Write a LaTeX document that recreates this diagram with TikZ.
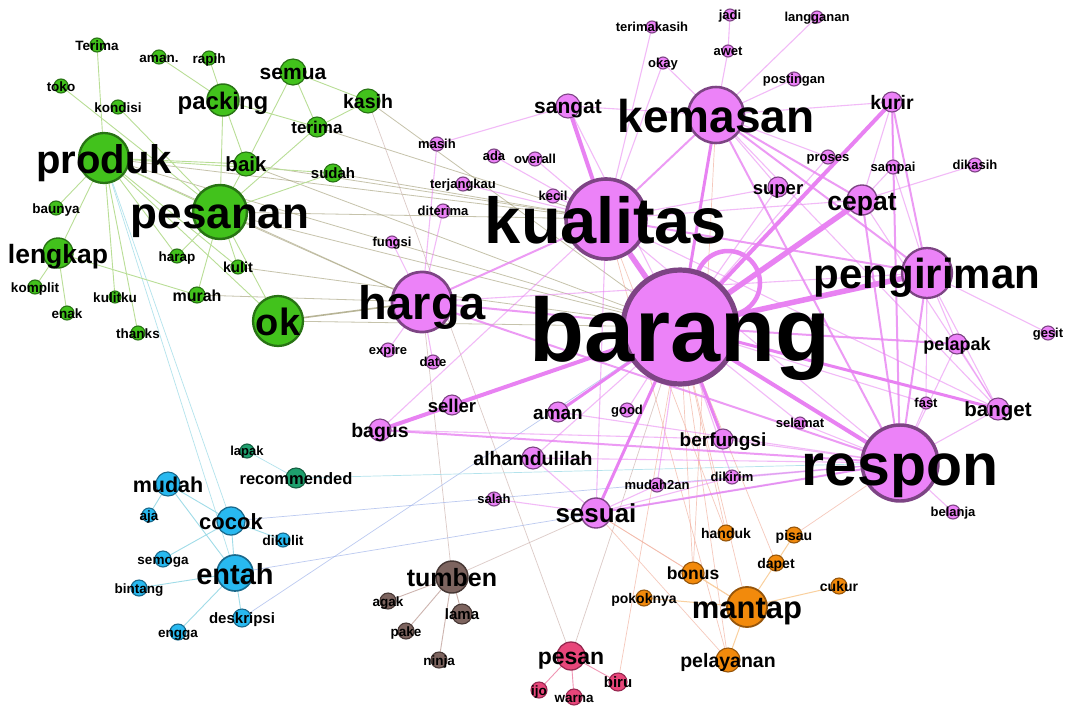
\documentclass[tikz,border=0pt]{standalone}
\usepackage{fontspec}
\setmainfont{Liberation Sans}
\pgfdeclarelayer{bot}\pgfdeclarelayer{bg}\pgfdeclarelayer{fg}\pgfsetlayers{bot,bg,main,fg}
\definecolor{gF}{RGB}{66,194,28} \definecolor{gD}{RGB}{40,115,20}
\definecolor{pF}{RGB}{236,130,248} \definecolor{pD}{RGB}{125,68,132}
\definecolor{cF}{RGB}{40,185,240} \definecolor{cD}{RGB}{25,105,140}
\definecolor{tF}{RGB}{30,160,110} \definecolor{tD}{RGB}{20,95,65}
\definecolor{bF}{RGB}{125,100,95} \definecolor{bD}{RGB}{70,55,52}
\definecolor{rF}{RGB}{232,70,122} \definecolor{rD}{RGB}{150,40,80}
\definecolor{oF}{RGB}{242,138,12} \definecolor{oD}{RGB}{150,85,10}
\definecolor{pE}{RGB}{232,130,242}
\definecolor{gE}{RGB}{185,222,150}
\definecolor{olE}{RGB}{160,155,115}
\definecolor{bE}{RGB}{160,180,235}
\definecolor{cE}{RGB}{160,220,232}
\definecolor{oE}{RGB}{242,178,160}
\definecolor{brE}{RGB}{205,180,175}
\definecolor{rE}{RGB}{240,150,180}
\newcommand\wn[7]{%
 \node[#5, minimum size={2*#4*1pt}, line width={max(1.1,#4/11)*1pt}] (#1) at (#2,#3) {};
 \begin{pgfonlayer}{fg}\node[anchor=base, inner sep=0, font={\bfseries\fontsize{#6}{#6}\selectfont}, yshift={-0.38*#6*1pt}] (#1-l) at (#2,#3) {#7};\end{pgfonlayer}}
\tikzset{
 nd/.style={circle, inner sep=0},
 gn/.style={nd, fill=gF, draw=gD},
 pn/.style={nd, fill=pF, draw=pD},
 cn/.style={nd, fill=cF, draw=cD},
 tn/.style={nd, fill=tF, draw=tD},
 bn/.style={nd, fill=bF, draw=bD},
 rn/.style={nd, fill=rF, draw=rD},
 on/.style={nd, fill=oF, draw=oD},
}
\begin{document}
\begin{tikzpicture}[x=1pt,y=-1pt]
\begin{pgfonlayer}{bot}
\fill[white] (0,0) rectangle (1067,707);
\end{pgfonlayer}
\useasboundingbox (0,0) rectangle (1067,707);
% green
\wn{produk}{104}{158}{25}{gn}{40}{produk}
\wn{pesanan}{220}{212}{27}{gn}{44}{pesanan}
\wn{packing}{223}{100}{16}{gn}{24}{packing}
\wn{semua}{293}{72}{13}{gn}{21}{semua}
\wn{kasih}{368}{101}{12}{gn}{19.5}{kasih}
\wn{terima}{317}{127}{10}{gn}{17}{terima}
\wn{baik}{246}{164}{12}{gn}{20.5}{baik}
\wn{sudah}{333}{173}{9}{gn}{15}{sudah}
\wn{Terimax}{97}{45}{7}{gn}{13.5}{Terima}
\wn{amanx}{159}{57}{7}{gn}{13.5}{aman.}
\wn{rapih}{209}{58}{7}{gn}{13.5}{rapih}
\wn{toko}{61}{86}{7}{gn}{13.5}{toko}
\wn{kondisi}{118}{107}{7}{gn}{13.5}{kondisi}
\wn{baunya}{56}{208}{7}{gn}{13.5}{baunya}
\wn{lengkap}{58}{253}{15}{gn}{26.5}{lengkap}
\wn{komplit}{35}{287}{7}{gn}{13.5}{komplit}
\wn{enak}{67}{313}{7}{gn}{13.5}{enak}
\wn{kulitku}{115}{297}{6}{gn}{13.5}{kulitku}
\wn{thanks}{138}{333}{7}{gn}{13.5}{thanks}
\wn{harap}{177}{256}{7}{gn}{13.5}{harap}
\wn{kulit}{238}{267}{7}{gn}{14.5}{kulit}
\wn{murah}{197}{295}{8}{gn}{16}{murah}
\wn{ok}{278}{321}{25}{gn}{38}{ok}
% purple
\wn{barang}{680}{327}{57}{pn}{90}{barang}
\wn{kualitas}{606}{219}{40}{pn}{65}{kualitas}
\wn{kemasan}{716}{115}{28}{pn}{46}{kemasan}
\wn{respon}{900}{463}{38}{pn}{59}{respon}
\wn{pengiriman}{927}{273}{25}{pn}{42}{pengiriman}
\wn{harga}{422}{302}{30}{pn}{47}{harga}
\wn{cepat}{862}{200}{15}{pn}{26.5}{cepat}
\wn{sangat}{568}{106}{12}{pn}{21}{sangat}
\wn{kurir}{892}{102}{10}{pn}{19.5}{kurir}
\wn{super}{778}{187}{10}{pn}{18.5}{super}
\wn{terimakasih}{652}{27}{6}{pn}{13}{terimakasih}
\wn{okay}{663}{63}{6}{pn}{13}{okay}
\wn{jadi}{730}{15}{6}{pn}{13}{jadi}
\wn{awet}{728}{51}{6}{pn}{13}{awet}
\wn{langganan}{817}{17}{6}{pn}{13}{langganan}
\wn{postingan}{794}{79}{7}{pn}{13}{postingan}
\wn{proses}{828}{157}{7}{pn}{13}{proses}
\wn{sampai}{893}{167}{7}{pn}{13}{sampai}
\wn{dikasih}{975}{165}{7}{pn}{13}{dikasih}
\wn{masih}{437}{144}{7}{pn}{13}{masih}
\wn{ada}{494}{156}{7}{pn}{13}{ada}
\wn{overall}{535}{159}{7}{pn}{13}{overall}
\wn{terjangkau}{463}{184}{7}{pn}{13}{terjangkau}
\wn{kecil}{553}{196}{7}{pn}{13}{kecil}
\wn{diterima}{443}{211}{7}{pn}{13}{diterima}
\wn{fungsi}{392}{242}{6}{pn}{13}{fungsi}
\wn{expire}{388}{350}{7}{pn}{13}{expire}
\wn{date}{433}{362}{7}{pn}{13}{date}
\wn{seller}{452}{405}{10}{pn}{18.5}{seller}
\wn{bagus}{380}{430}{11}{pn}{19.5}{bagus}
\wn{aman}{558}{412}{10}{pn}{19}{aman}
\wn{good}{627}{410}{7}{pn}{13}{good}
\wn{alhamdulilah}{533}{458}{11}{pn}{19.5}{alhamdulilah}
\wn{berfungsi}{723}{439}{10}{pn}{19}{berfungsi}
\wn{selamat}{800}{423}{6}{pn}{13}{selamat}
\wn{fast}{926}{403}{6}{pn}{13}{fast}
\wn{pelapak}{957}{344}{10}{pn}{18}{pelapak}
\wn{banget}{998}{409}{11}{pn}{20.5}{banget}
\wn{gesit}{1048}{333}{7}{pn}{13}{gesit}
\wn{dikirim}{732}{477}{7}{pn}{13}{dikirim}
\wn{mudahan}{657}{485}{7}{pn}{13}{mudah2an}
\wn{salah}{494}{499}{7}{pn}{13}{salah}
\wn{sesuai}{596}{513}{15}{pn}{26}{sesuai}
\wn{belanja}{953}{512}{7}{pn}{13}{belanja}
% cyan
\wn{mudah}{168}{484}{12}{cn}{21.5}{mudah}
\wn{aja}{149}{515}{7}{cn}{13.5}{aja}
\wn{cocok}{231}{521}{14}{cn}{22}{cocok}
\wn{dikulit}{283}{540}{7}{cn}{14}{dikulit}
\wn{semoga}{163}{559}{8}{cn}{13.5}{semoga}
\wn{entah}{235}{573}{18}{cn}{29}{entah}
\wn{bintang}{139}{588}{8}{cn}{13.5}{bintang}
\wn{deskripsi}{242}{618}{9}{cn}{15}{deskripsi}
\wn{engga}{178}{632}{8}{cn}{13.5}{engga}
% teal
\wn{lapak}{247}{451}{7}{tn}{13}{lapak}
\wn{recommended}{296}{478}{10}{tn}{16.5}{recommended}
% brown
\wn{tumben}{452}{577}{16}{bn}{25}{tumben}
\wn{agak}{388}{601}{8}{bn}{13.5}{agak}
\wn{lama}{462}{614}{10}{bn}{15}{lama}
\wn{pake}{406}{631}{8}{bn}{13.5}{pake}
\wn{ninja}{439}{660}{8}{bn}{13.5}{ninja}
% pink
\wn{pesan}{571}{656}{14}{rn}{23}{pesan}
\wn{ijo}{539}{690}{8}{rn}{13.5}{ijo}
\wn{warna}{574}{697}{8}{rn}{13.5}{warna}
\wn{biru}{618}{682}{9}{rn}{15}{biru}
% orange
\wn{mantap}{747}{607}{20}{on}{31}{mantap}
\wn{bonus}{693}{573}{11}{on}{17.5}{bonus}
\wn{handuk}{726}{533}{8}{on}{14}{handuk}
\wn{pisau}{794}{535}{8}{on}{14}{pisau}
\wn{dapet}{776}{563}{8}{on}{14}{dapet}
\wn{cukur}{839}{586}{8}{on}{14}{cukur}
\wn{pokoknya}{644}{598}{8}{on}{14}{pokoknya}
\wn{pelayanan}{728}{660}{12}{on}{19.5}{pelayanan}
\begin{pgfonlayer}{bg}
% thin cross-cluster edges
\foreach \a/\b in {produk/kualitas,pesanan/kualitas,pesanan/barang,ok/barang,pesanan/harga,baik/kualitas,sudah/kualitas,produk/harga,murah/harga,kulit/barang,terima/kualitas,produk/barang,kasih/barang,baik/barang}
  \draw[olE, line width=0.8pt, opacity=.6] (\a.center) -- (\b.center);
\draw[olE, line width=1.6pt, opacity=.75] (ok.center) -- (harga.center);
\foreach \a/\b in {pesan/kasih,tumben/harga,tumben/sesuai,pesan/barang}
  \draw[brE, line width=0.7pt, opacity=.7] (\a.center) -- (\b.center);
\foreach \a/\b in {cocok/respon,entah/respon,deskripsi/barang}
  \draw[bE, line width=0.7pt, opacity=.7] (\a.center) -- (\b.center);
\foreach \a/\b in {produk/cocok,produk/entah,recommended/respon,lapak/recommended}
  \draw[cE, line width=0.7pt, opacity=.8] (\a.center) -- (\b.center);
\foreach \a/\b in {mantap/barang,bonus/barang,handuk/barang,pelayanan/barang,mantap/sesuai,pelayanan/sesuai,bonus/sesuai,pisau/respon,handuk/kualitas,pelayanan/kualitas,bonus/kemasan,biru/barang,dapet/barang}
  \draw[oE, line width=0.7pt, opacity=.7] (\a.center) -- (\b.center);
% green internal
\foreach \a/\b in {produk/pesanan,produk/baik,produk/sudah,produk/Terimax,toko/pesanan,kondisi/pesanan,amanx/packing,rapih/packing,packing/pesanan,packing/baik,packing/terima,semua/baik,semua/terima,semua/kasih,kasih/terima,terima/pesanan,sudah/pesanan,pesanan/ok,pesanan/kulit,pesanan/harap,produk/lengkap,produk/baunya,produk/kulitku,produk/thanks,produk/ok,lengkap/komplit,lengkap/enak,lengkap/murah,produk/kulit,baik/pesanan,produk/harap,pesanan/murah}
  \draw[gE, line width=0.9pt] (\a.center) -- (\b.center);
% cyan internal
\foreach \a/\b in {mudah/aja,mudah/cocok,cocok/entah,cocok/semoga,cocok/dikulit,entah/bintang,entah/engga,entah/deskripsi,mudah/entah}
  \draw[cE, line width=0.9pt] (\a.center) -- (\b.center);
\foreach \a/\b in {tumben/agak,tumben/lama,tumben/pake,tumben/ninja}
  \draw[brE, line width=0.9pt] (\a.center) -- (\b.center);
\foreach \a/\b in {pesan/ijo,pesan/warna,pesan/biru}
  \draw[rE, line width=0.9pt] (\a.center) -- (\b.center);
\foreach \a/\b in {mantap/bonus,mantap/dapet,dapet/pisau,mantap/cukur,mantap/pelayanan,mantap/pokoknya}
  \draw[oF!40, line width=1pt] (\a.center) -- (\b.center);
% purple thin
\foreach \a/\b in {kemasan/super,kemasan/kurir,kemasan/awet,awet/jadi,kemasan/langganan,kemasan/postingan,kemasan/sangat,kemasan/okay,kualitas/terimakasih,kualitas/okay,pengiriman/gesit,pengiriman/sampai,pengiriman/pelapak,pengiriman/banget,respon/pelapak,respon/fast,respon/banget,respon/belanja,respon/selamat,respon/berfungsi,respon/kualitas,cepat/dikasih,cepat/sampai,cepat/kualitas,cepat/kurir,kurir/sampai,harga/diterima,harga/fungsi,harga/expire,harga/date,harga/masih,masih/sangat,kualitas/kecil,kualitas/overall,kualitas/ada,kualitas/terjangkau,barang/good,barang/alhamdulilah,barang/selamat,barang/seller,barang/mudahan,barang/dikirim,barang/fast,barang/super,barang/proses,sesuai/alhamdulilah,sesuai/salah,sesuai/mudahan,sesuai/kualitas,bagus/berfungsi,kualitas/super,kemasan/banget,kualitas/banget,harga/pengiriman,bagus/kualitas,aman/respon,alhamdulilah/respon,pelapak/banget,fast/pengiriman,cepat/banget,kemasan/proses,dikirim/respon,mudahan/respon,sesuai/dikirim,sangat/barang}
  \draw[pE, line width=1.1pt, opacity=.55] (\a.center) -- (\b.center);
\foreach \a/\b in {barang/harga,barang/pelapak,kualitas/kemasan,kualitas/pengiriman,kemasan/respon,pengiriman/respon,cepat/respon,kurir/respon,kemasan/pengiriman,kemasan/cepat,harga/respon,harga/kualitas,sesuai/respon,bagus/respon,kurir/pengiriman}
  \draw[pE, line width=2pt, opacity=.8] (\a.center) -- (\b.center);
\foreach \a/\b in {barang/kemasan,barang/sesuai,barang/berfungsi,barang/banget,barang/aman}
  \draw[pE, line width=3pt] (\a.center) -- (\b.center);
\foreach \a/\b in {barang/kurir,barang/respon,barang/bagus,kualitas/sangat}
  \draw[pE, line width=4pt] (\a.center) -- (\b.center);
\foreach \a/\b in {barang/kualitas,barang/cepat,barang/pengiriman}
  \draw[pE, line width=5.5pt] (\a.center) -- (\b.center);
\draw[pE, line width=4.5pt] ([shift={(48,-44)}]barang.center) circle[radius=32];
\end{pgfonlayer}
\end{tikzpicture}
\end{document}
